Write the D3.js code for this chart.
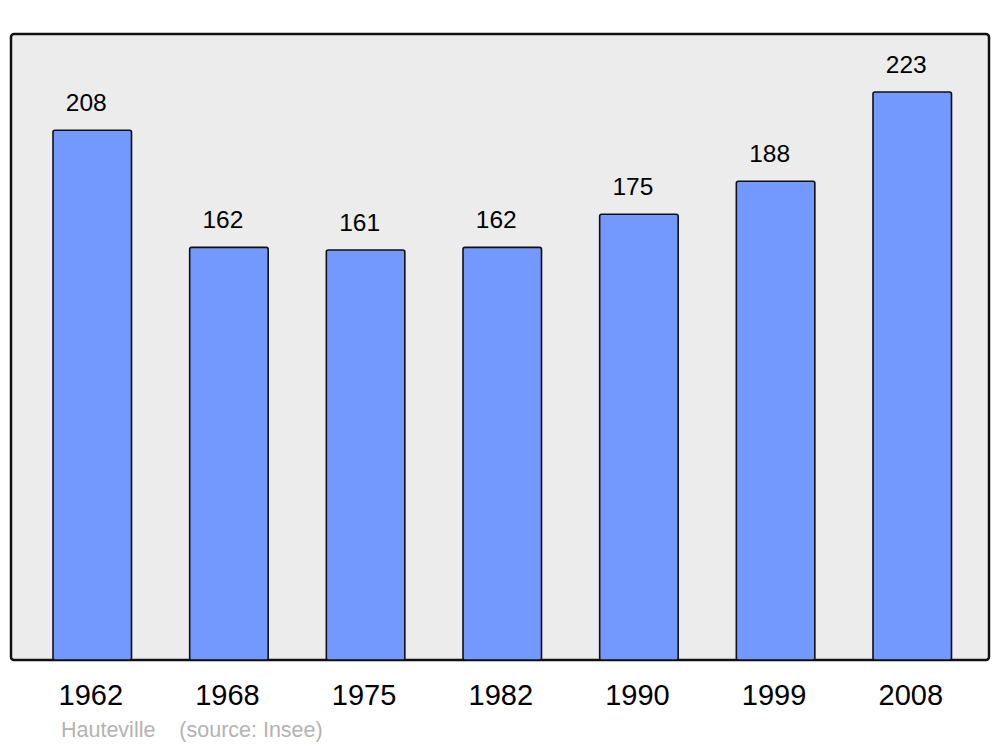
<!DOCTYPE html>
<html><head><meta charset="utf-8">
<script src="https://cdn.jsdelivr.net/npm/d3@7"></script>
<style>body{margin:0;background:#fff}svg{display:block}</style>
</head><body>
<script>
const years = ["1962","1968","1975","1982","1990","1999","2008"];
const population = [208,162,161,162,175,188,223];
const commune = "Hauteville";
const source = "(source: Insee)";

const W = 1000, H = 747;
const svg = d3.select("body").append("svg").attr("width", W).attr("height", H);
const frame = {x0: 11, x1: 989, y0: 34, y1: 660};
const font = "Liberation Sans, Arial, sans-serif";

svg.append("rect").attr("x", frame.x0).attr("y", frame.y0)
  .attr("width", frame.x1 - frame.x0).attr("height", frame.y1 - frame.y0)
  .attr("rx", 3).attr("fill", "#ececec").attr("stroke", "#111").attr("stroke-width", 2.5);

const x = d3.scaleBand().domain(years).range([53, 951.5]).paddingInner(0.4256).paddingOuter(0);
const y = d3.scaleLinear().domain([0, 245.8]).range([frame.y1, frame.y0]);

svg.selectAll("rect.bar").data(years).enter().append("rect").attr("class", "bar")
  .attr("x", d => x(d)).attr("width", x.bandwidth())
  .attr("y", (d, i) => y(population[i])).attr("height", (d, i) => frame.y1 - y(population[i]))
  .attr("rx", 2).attr("fill", "#7399ff").attr("stroke", "#111").attr("stroke-width", 1.6);

svg.selectAll("text.val").data(years).enter().append("text").attr("class", "val")
  .attr("x", d => x(d) + x.bandwidth() / 2 - 6).attr("y", (d, i) => y(population[i]) - 19)
  .attr("text-anchor", "middle").attr("font-family", font)
  .attr("font-size", 24.5).attr("fill", "#000").text((d, i) => population[i]);

const axis = d3.axisBottom(x).tickSize(0).tickPadding(0);
const ag = svg.append("g").attr("transform", `translate(-1.5,${frame.y1})`).call(axis);
ag.select(".domain").remove();
ag.selectAll("text").attr("font-family", font)
  .attr("font-size", 29).attr("fill", "#000").attr("dy", null).attr("y", 45);

svg.append("text").attr("x", 61).attr("y", 737).attr("font-family", font)
  .attr("font-size", 21.5).attr("fill", "#b3b3b3").attr("xml:space", "preserve")
  .text(commune + "    " + source);
</script>
</body></html>
